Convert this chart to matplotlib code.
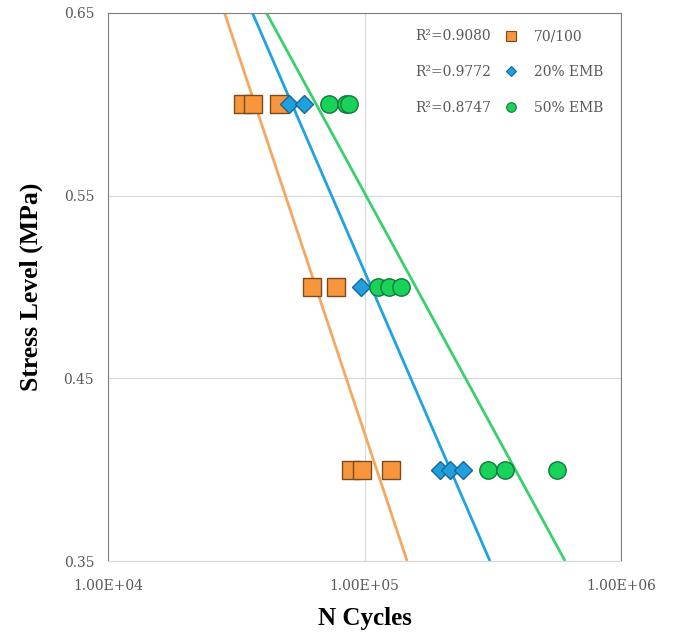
import numpy as np
import matplotlib
matplotlib.use('Agg')
from matplotlib import pyplot as plt
from matplotlib.lines import Line2D
from matplotlib.ticker import FixedLocator, FuncFormatter, NullLocator

# 数据
bitumen_x = [33700, 36800, 46400, 62300, 77200, 88300, 97400, 127300]
bitumen_y = [0.6, 0.6, 0.6, 0.5, 0.5, 0.4, 0.4, 0.4]

emb20_x = [50700, 58000, 96500, 197000, 215500, 241900]
emb20_y = [0.6, 0.6, 0.5, 0.4, 0.4, 0.4]

emb50_x = [72500, 84400, 86700, 113300, 125000, 139100, 302500, 352000, 564500]
emb50_y = [0.6, 0.6, 0.6, 0.5, 0.5, 0.5, 0.4, 0.4, 0.4]

series_labels = ['70/100', '20% EMB', '50% EMB']
r2_labels = ['R²=0.9080', 'R²=0.9772', 'R²=0.8747']
y_ticks = [0.35, 0.45, 0.55, 0.65]
x_ticks = [1e4, 1e5, 1e6]

fig = plt.figure(figsize=(6.73, 6.33), dpi=100)
ax = fig.add_axes([0.1605, 0.1137, 0.7623, 0.8658])

styles = [
    dict(marker='s', ms=12.5, mfc='#f7963c', mec='#7a4a1c', line='#f5a85e'),
    dict(marker='D', ms=9, mfc='#1fa0dc', mec='#17679a', line='#1ea3e0'),
    dict(marker='o', ms=12.5, mfc='#19d25a', mec='#0e7a3a', line='#38d06a'),
]
data = [(bitumen_x, bitumen_y), (emb20_x, emb20_y), (emb50_x, emb50_y)]

y_min, y_max = 0.35, 0.65
handles = []
for (xs, ys), st in zip(data, styles):
    # 对数趋势线 y = a*log10(x) + b
    a, b = np.polyfit(np.log10(xs), ys, 1)
    y_line = np.array([y_max, y_min])
    x_line = 10 ** ((y_line - b) / a)
    ax.plot(x_line, y_line, color=st['line'], lw=2, zorder=2, solid_capstyle='butt')
    ax.plot(xs, ys, ls='none', marker=st['marker'], ms=st['ms'],
            mfc=st['mfc'], mec=st['mec'], mew=1.0, zorder=3)
    handles.append(Line2D([], [], ls='none', marker=st['marker'], ms=st['ms'] * 0.55,
                          mfc=st['mfc'], mec=st['mec'], mew=0.8))

ax.set_xscale('log')
ax.set_xlim(1e4, 1e6)
ax.set_ylim(y_min, y_max)

ax.xaxis.set_major_locator(FixedLocator(x_ticks))
ax.xaxis.set_minor_locator(NullLocator())
ax.xaxis.set_major_formatter(FuncFormatter(lambda v, p: '%.2E' % v))
ax.yaxis.set_major_locator(FixedLocator(y_ticks))
ax.yaxis.set_major_formatter(FuncFormatter(lambda v, p: '%.2f' % v))

ax.grid(True, color='#d9d9d9', lw=0.9)
ax.set_axisbelow(True)
ax.tick_params(length=0, labelsize=10, labelcolor='#595959')
ax.tick_params(axis='x', pad=13)
ax.tick_params(axis='y', pad=10)
for lab in ax.get_xticklabels() + ax.get_yticklabels():
    lab.set_family('DejaVu Serif')

for side in ['top', 'left', 'right']:
    ax.spines[side].set_color('#7f7f7f')
ax.spines['bottom'].set_color('#d9d9d9')

ax.set_xlabel('N Cycles', fontsize=18, fontweight='bold', family='Liberation Serif', labelpad=10)
ax.set_ylabel('Stress Level (MPa)', fontsize=18.5, fontweight='bold', family='Liberation Serif', labelpad=15)

# 图例：左列为 R² 文本，右列为标记与名称
blank = [Line2D([], [], ls='none') for _ in range(3)]
leg = ax.legend(blank + handles, r2_labels + series_labels, ncol=2,
                loc='upper left', bbox_to_anchor=(0.532, 0.98), borderaxespad=0,
                frameon=False, handlelength=0.8, handletextpad=1.26, columnspacing=1.04,
                labelspacing=1.55, prop={'family': 'DejaVu Serif', 'size': 10})
for t in leg.get_texts():
    t.set_color('#595959')

fig.savefig('out.png', dpi=100)
